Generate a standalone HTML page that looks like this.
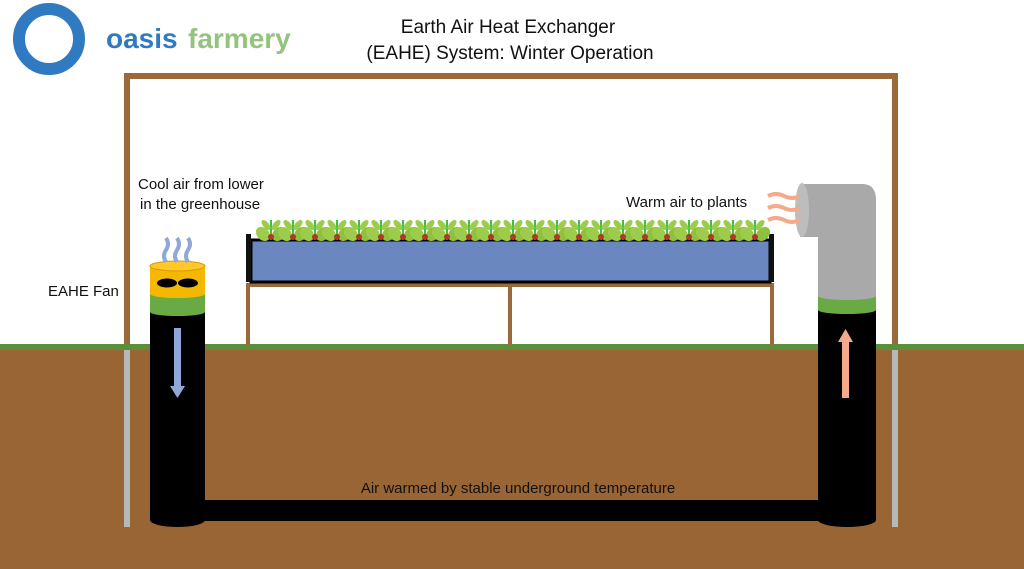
<!DOCTYPE html>
<html><head><meta charset="utf-8"><style>
body{margin:0;width:1024px;height:569px;overflow:hidden;background:#fff}
svg{display:block}
text{font-family:"Liberation Sans",sans-serif;fill:#111}
</style></head><body>
<svg width="1024" height="569" viewBox="0 0 1024 569">
<!-- logo -->
<circle cx="49" cy="39" r="30" fill="none" stroke="#2f7ac0" stroke-width="12"/>
<text x="106" y="48" font-size="28" font-weight="600" style="fill:#2f7ac0">oasis</text>
<text x="188" y="48" font-size="28" font-weight="600" style="fill:#93c47d">farmery</text>
<!-- title -->
<text x="508" y="33" font-size="19" text-anchor="middle">Earth Air Heat Exchanger</text>
<text x="510" y="59" font-size="19" text-anchor="middle">(EAHE) System: Winter Operation</text>
<!-- frame -->
<path d="M127 346 V76 H895 V346" fill="none" stroke="#9b6a3a" stroke-width="6"/>
<!-- ground -->
<rect x="0" y="349" width="1024" height="220" fill="#9a6534"/>
<rect x="0" y="344" width="1024" height="6" fill="#5b8f3a"/>
<rect x="124" y="350" width="6" height="177" fill="#b8b8b8"/>
<rect x="892" y="350" width="6" height="177" fill="#b8b8b8"/>
<!-- table -->
<rect x="246" y="283" width="528" height="4" fill="#9b6a3a"/>
<rect x="246" y="285" width="4" height="60" fill="#9b6a3a"/>
<rect x="508" y="285" width="4" height="60" fill="#9b6a3a"/>
<rect x="770" y="285" width="4" height="60" fill="#9b6a3a"/>
<rect x="251" y="240" width="519" height="42" fill="#6a87bf" stroke="#000" stroke-width="3"/>
<rect x="246" y="234" width="5" height="48" fill="#111"/>
<rect x="769" y="234" width="5" height="48" fill="#111"/>
<!-- plants -->
<g id="pl">
<path d="M271 240 L271 220" stroke="#3ec040" stroke-width="2"/>
<ellipse cx="263" cy="234" rx="6" ry="8" fill="#9ccc4a" transform="rotate(-45 263 234)"/>
<ellipse cx="279" cy="234" rx="6" ry="8" fill="#8fc040" transform="rotate(45 279 234)"/>
<ellipse cx="266" cy="225" rx="3" ry="6" fill="#9ccc4a" transform="rotate(-40 266 225)"/>
<ellipse cx="276" cy="225" rx="3" ry="6" fill="#9ccc4a" transform="rotate(40 276 225)"/>
<circle cx="271" cy="237" r="3" fill="#b03a20"/>
</g>
<use href="#pl" x="22"/><use href="#pl" x="44"/><use href="#pl" x="66"/><use href="#pl" x="88"/>
<use href="#pl" x="110"/><use href="#pl" x="132"/><use href="#pl" x="154"/><use href="#pl" x="176"/>
<use href="#pl" x="198"/><use href="#pl" x="220"/><use href="#pl" x="242"/><use href="#pl" x="264"/>
<use href="#pl" x="286"/><use href="#pl" x="308"/><use href="#pl" x="330"/><use href="#pl" x="352"/>
<use href="#pl" x="374"/><use href="#pl" x="396"/><use href="#pl" x="418"/><use href="#pl" x="440"/>
<use href="#pl" x="462"/><use href="#pl" x="484"/>
<!-- underground pipe -->
<rect x="200" y="500" width="625" height="21" fill="#000"/>
<!-- left column -->
<rect x="150" y="310" width="55" height="210" fill="#000"/>
<ellipse cx="177.5" cy="520" rx="27.5" ry="7" fill="#000"/>
<rect x="150" y="292" width="55" height="20" fill="#6aaa44"/>
<ellipse cx="177.5" cy="312" rx="27.5" ry="4" fill="#6aaa44"/>
<rect x="150" y="266" width="55" height="28" fill="#f5b800"/>
<ellipse cx="177.5" cy="294" rx="27.5" ry="4" fill="#f5b800"/>
<ellipse cx="177.5" cy="266" rx="27.5" ry="5" fill="#ffc72a" stroke="#d99a00"/>
<ellipse cx="167" cy="283" rx="10" ry="4.5" fill="#000"/>
<ellipse cx="188" cy="283" rx="10" ry="4.5" fill="#000"/>
<g fill="none" stroke="#8fa8d8" stroke-width="4">
<path d="M166 262 q-4 -6 0 -12 q4 -6 0 -12"/>
<path d="M177 262 q-4 -6 0 -12 q4 -6 0 -12"/>
<path d="M188 262 q-4 -6 0 -12 q4 -6 0 -12"/>
</g>
<rect x="174" y="328" width="7" height="60" fill="#8fa8d8"/>
<path d="M170 386 h15 l-7.5 12 z" fill="#8fa8d8"/>
<!-- right column -->
<rect x="818" y="308" width="58" height="212" fill="#000"/>
<ellipse cx="847" cy="520" rx="29" ry="7" fill="#000"/>
<rect x="818" y="294" width="58" height="16" fill="#6aaa44"/>
<ellipse cx="847" cy="310" rx="29" ry="4" fill="#6aaa44"/>
<path d="M818 296 V237 H800 V184 H862 Q876 184 876 200 V296 Z" fill="#a9a9a9"/>
<ellipse cx="847" cy="296" rx="29" ry="4" fill="#a9a9a9"/>
<ellipse cx="802" cy="210" rx="7" ry="27" fill="#bdbdbd"/>
<g fill="none" stroke="#f4a98a" stroke-width="4">
<path d="M768 196 q8 -4 16 0 q8 4 16 0"/>
<path d="M768 208 q8 -4 16 0 q8 4 16 0"/>
<path d="M768 220 q8 -4 16 0 q8 4 16 0"/>
</g>
<rect x="842" y="340" width="7" height="58" fill="#f4a98a"/>
<path d="M838 342 h15 l-7.5 -13 z" fill="#f4a98a"/>
<!-- labels -->
<text x="138" y="189" font-size="15">Cool air from lower</text>
<text x="140" y="209" font-size="15">in the greenhouse</text>
<text x="48" y="296" font-size="15">EAHE Fan</text>
<text x="626" y="207" font-size="15">Warm air to plants</text>
<text x="518" y="493" font-size="15" text-anchor="middle">Air warmed by stable underground temperature</text>
</svg>
</body></html>
